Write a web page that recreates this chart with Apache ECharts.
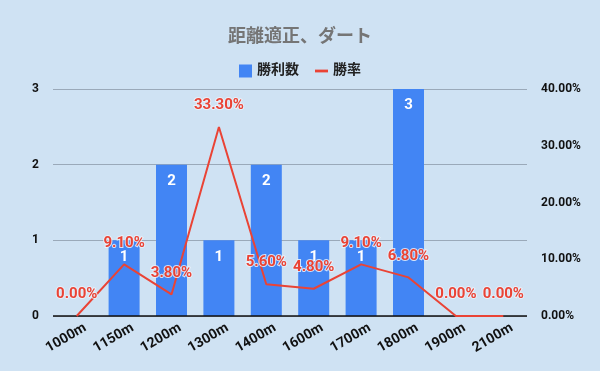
<!DOCTYPE html>
<html><head><meta charset="utf-8">
<script src="https://cdn.jsdelivr.net/npm/echarts@6/dist/echarts.min.js"></script>
<style>html,body{margin:0;padding:0;background:#cfe2f3;}#c{width:600px;height:371px;}</style>
</head><body><div id="c"></div>
<script>
const categories = ['1000m','1150m','1200m','1300m','1400m','1600m','1700m','1800m','1900m','2100m'];
const wins = [0, 1, 2, 1, 2, 1, 1, 3, 0, 0];
const winRate = [0.00, 9.10, 3.80, 33.30, 5.60, 4.80, 9.10, 6.80, 0.00, 0.00];
const leftTicks = {min: 0, max: 3, interval: 1};
const rightTicks = {min: 0, max: 40, interval: 10};

const chart = echarts.init(document.getElementById('c'));
const font = 'Roboto, "Noto Sans CJK JP", sans-serif';
chart.setOption({
  backgroundColor: '#cfe2f3',
  animation: false,
  textStyle: {fontFamily: font},
  title: {
    text: '距離適正、ダート', left: 'center', top: 24,
    textStyle: {fontSize: 18, fontWeight: 'bold', color: '#757575', fontFamily: font}
  },
  legend: {
    top: 59, left: 'center', itemGap: 16, itemWidth: 13, itemHeight: 13,
    textStyle: {fontSize: 14, fontWeight: 'bold', color: '#222', fontFamily: font},
    data: [
      {name: '勝利数', icon: 'rect'},
      {name: '勝率', icon: 'path://M0,0 L14,0 L14,3 L0,3 Z', itemStyle: {color: '#ea4335'}}
    ]
  },
  grid: {left: 53, right: 73, top: 89, bottom: 55},
  xAxis: {
    type: 'category', data: categories,
    axisTick: {show: false},
    axisLine: {show: false},
    axisLabel: {rotate: 30, fontSize: 14, fontWeight: 'bold', color: '#111', margin: 16, padding: [0, -10, 0, 0], fontFamily: font, interval: 0}
  },
  yAxis: [
    {
      type: 'value', min: leftTicks.min, max: leftTicks.max, interval: leftTicks.interval,
      axisLabel: {fontSize: 12, fontWeight: 'bold', color: '#111', margin: 14, fontFamily: font},
      splitLine: {lineStyle: {color: '#9aa9b9', width: 1}},
      axisLine: {show: false}, axisTick: {show: false}
    },
    {
      type: 'value', min: rightTicks.min, max: rightTicks.max, interval: rightTicks.interval,
      axisLabel: {fontSize: 12, fontWeight: 'bold', color: '#111', margin: 14, fontFamily: font,
        formatter: v => v.toFixed(2) + '%'},
      splitLine: {show: false}, axisLine: {show: false}, axisTick: {show: false}
    }
  ],
  series: [
    {
      name: '勝利数', type: 'bar', data: wins, yAxisIndex: 0, barWidth: 31,
      itemStyle: {color: '#4285f4'},
      label: {show: true, position: 'insideTop', distance: 9, color: '#fff', fontSize: 15, fontWeight: 'bold', fontFamily: font,
        formatter: p => p.value === 0 ? '' : String(p.value)},
      markLine: {silent: true, symbol: 'none', label: {show: false},
        lineStyle: {color: '#111', width: 1.5, type: 'solid'}, data: [{yAxis: 0}]}
    },
    {
      name: '勝率', type: 'line', data: winRate, yAxisIndex: 1,
      symbol: 'circle', symbolSize: 0.1, showSymbol: true,
      lineStyle: {color: '#ea4335', width: 2}, itemStyle: {color: '#ea4335'},
      label: {show: true, position: 'top', distance: 14, color: '#ea4335', fontSize: 15, fontWeight: 'bold', fontFamily: font,
        textBorderColor: 'rgba(235,242,250,0.85)', textBorderWidth: 2,
        formatter: p => p.value.toFixed(2) + '%'},
      labelLayout: {hideOverlap: false},
      z: 5
    }
  ]
});
</script></body></html>
